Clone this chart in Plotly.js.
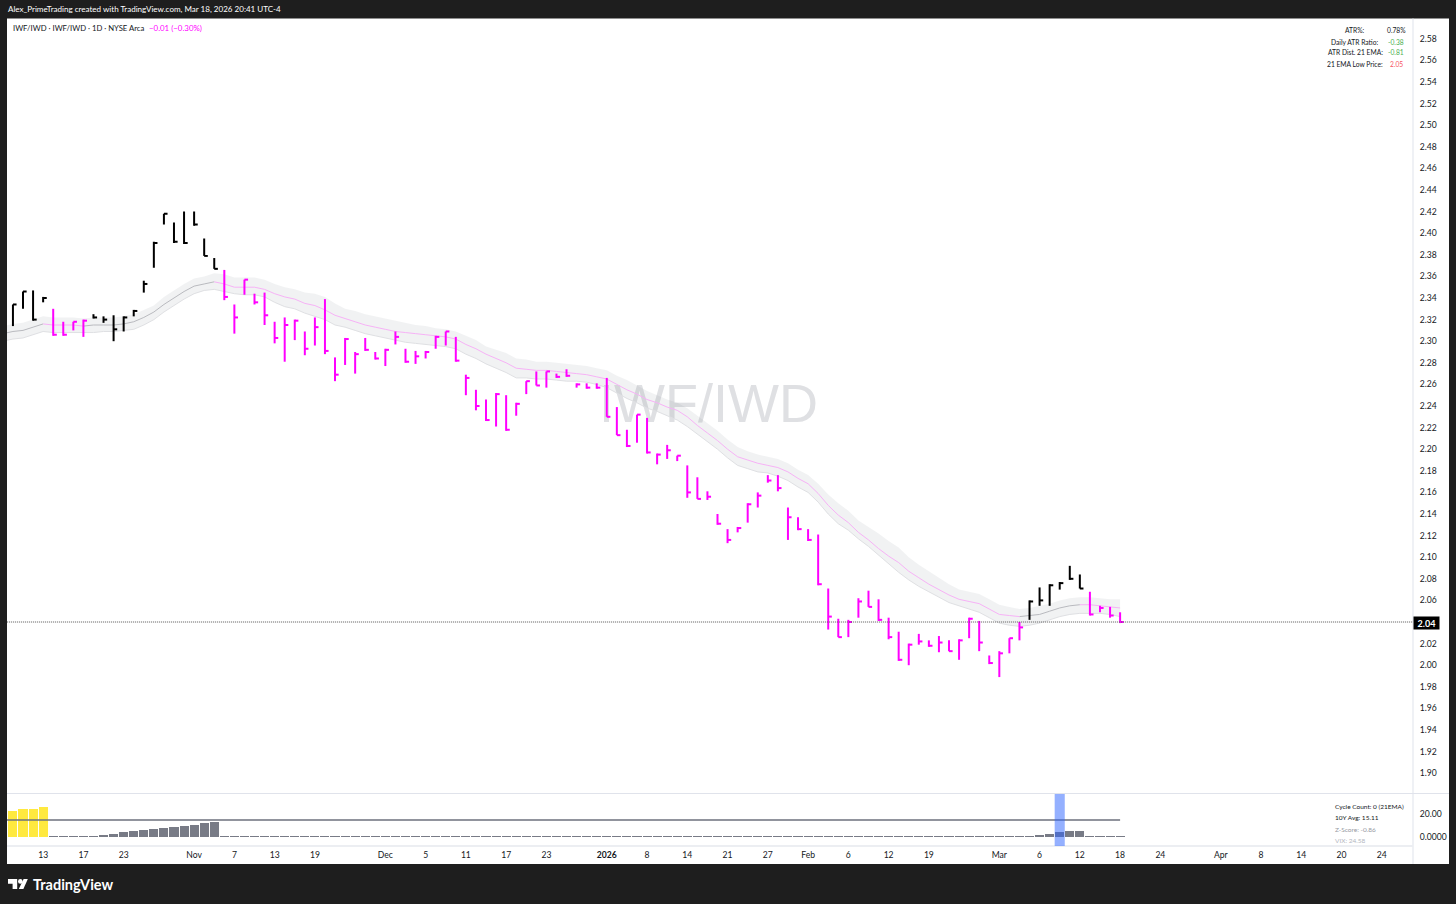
<!DOCTYPE html>
<html><head><meta charset="utf-8">
<script src="https://cdn.plot.ly/plotly-3.0.1.min.js"></script>
<style>html,body{margin:0;padding:0;background:#1e1e1e;overflow:hidden}</style>
</head><body><div id="chart" style="width:1456px;height:904px"></div>
<script>
// ---- Data (IWF/IWD daily, HLC bars) ----
const highs=[2.334,2.346,2.347,2.341,2.330,2.318,2.318,2.320,2.325,2.323,2.324,2.323,2.329,2.356,2.392,2.418,2.410,2.420,2.420,2.395,2.377,2.366,2.334,2.357,2.344,2.345,2.318,2.322,2.320,2.309,2.322,2.339,2.285,2.303,2.290,2.303,2.290,2.293,2.309,2.293,2.291,2.291,2.305,2.309,2.304,2.269,2.255,2.246,2.252,2.250,2.243,2.263,2.272,2.272,2.270,2.274,2.261,2.261,2.261,2.266,2.239,2.218,2.232,2.229,2.196,2.204,2.194,2.185,2.174,2.161,2.140,2.126,2.128,2.150,2.160,2.176,2.176,2.146,2.137,2.126,2.121,2.071,2.043,2.042,2.062,2.069,2.061,2.044,2.031,2.020,2.029,2.023,2.027,2.023,2.024,2.044,2.041,2.009,2.013,2.025,2.040,2.060,2.072,2.075,2.077,2.092,2.084,2.068,2.055,2.054,2.049];
const lows=[2.314,2.330,2.319,2.336,2.305,2.305,2.310,2.304,2.321,2.317,2.300,2.309,2.323,2.345,2.368,2.408,2.391,2.390,2.407,2.379,2.367,2.338,2.307,2.343,2.334,2.315,2.298,2.281,2.301,2.287,2.296,2.288,2.263,2.278,2.270,2.291,2.283,2.277,2.297,2.280,2.279,2.284,2.293,2.296,2.281,2.250,2.236,2.226,2.221,2.217,2.231,2.251,2.259,2.257,2.266,2.267,2.257,2.256,2.256,2.230,2.213,2.202,2.206,2.196,2.186,2.191,2.189,2.155,2.154,2.153,2.130,2.113,2.123,2.132,2.146,2.169,2.161,2.116,2.125,2.115,2.074,2.033,2.026,2.026,2.044,2.054,2.041,2.024,2.004,2.000,2.019,2.017,2.012,2.013,2.005,2.025,2.013,2.001,1.989,2.011,2.023,2.042,2.055,2.055,2.070,2.079,2.071,2.046,2.049,2.044,2.039];
const closes=[2.334,2.346,2.320,2.340,2.306,2.306,2.318,2.319,2.322,2.320,2.311,2.322,2.328,2.353,2.391,2.418,2.392,2.391,2.408,2.379,2.367,2.341,2.322,2.357,2.336,2.324,2.303,2.315,2.319,2.293,2.313,2.291,2.269,2.302,2.288,2.292,2.284,2.292,2.304,2.281,2.286,2.290,2.304,2.309,2.282,2.266,2.240,2.227,2.251,2.218,2.242,2.263,2.259,2.272,2.267,2.268,2.260,2.257,2.257,2.230,2.213,2.203,2.232,2.197,2.195,2.199,2.194,2.160,2.154,2.156,2.131,2.116,2.127,2.149,2.157,2.171,2.164,2.137,2.126,2.116,2.075,2.045,2.026,2.040,2.059,2.054,2.042,2.026,2.005,2.019,2.022,2.018,2.021,2.013,2.023,2.043,2.021,2.002,2.011,2.025,2.035,2.059,2.060,2.074,2.076,2.080,2.071,2.047,2.053,2.046,2.040];
// Bar colour runs: B black, M magenta, with bar counts
const barStateRuns=[['B',4],['M',4],['B',13],['M',80],['B',6],['M',4]];
// 21 EMA and its cloud, first value is the bar before the first visible one
const emaMid=[2.307,2.309,2.310,2.313,2.316,2.315,2.315,2.315,2.314,2.315,2.315,2.315,2.316,2.318,2.322,2.327,2.334,2.340,2.346,2.351,2.353,2.355,2.353,2.350,2.350,2.350,2.348,2.344,2.341,2.339,2.335,2.333,2.329,2.324,2.321,2.318,2.315,2.313,2.311,2.309,2.308,2.307,2.306,2.305,2.304,2.302,2.297,2.293,2.288,2.284,2.280,2.275,2.274,2.273,2.273,2.272,2.271,2.270,2.269,2.267,2.265,2.260,2.255,2.251,2.246,2.243,2.239,2.236,2.230,2.222,2.215,2.208,2.200,2.193,2.190,2.187,2.185,2.183,2.179,2.173,2.168,2.159,2.148,2.139,2.132,2.123,2.116,2.108,2.101,2.095,2.087,2.081,2.075,2.070,2.065,2.061,2.059,2.057,2.052,2.047,2.046,2.045,2.046,2.047,2.050,2.053,2.055,2.056,2.056,2.055,2.054,2.053];
const emaUpper=[2.314,2.316,2.317,2.320,2.323,2.322,2.322,2.322,2.321,2.322,2.322,2.322,2.323,2.325,2.329,2.333,2.341,2.347,2.353,2.358,2.360,2.363,2.362,2.359,2.359,2.359,2.357,2.353,2.350,2.348,2.345,2.344,2.341,2.335,2.330,2.328,2.325,2.323,2.321,2.319,2.317,2.315,2.314,2.312,2.311,2.309,2.305,2.301,2.295,2.292,2.289,2.284,2.283,2.281,2.281,2.280,2.279,2.278,2.277,2.275,2.273,2.268,2.264,2.259,2.254,2.250,2.246,2.243,2.238,2.231,2.224,2.217,2.209,2.202,2.198,2.195,2.193,2.191,2.187,2.181,2.176,2.168,2.158,2.150,2.143,2.134,2.128,2.122,2.115,2.109,2.100,2.093,2.087,2.081,2.075,2.070,2.068,2.066,2.061,2.056,2.054,2.052,2.053,2.055,2.057,2.060,2.062,2.063,2.063,2.062,2.061,2.061];
const emaLower=[2.300,2.302,2.303,2.306,2.309,2.308,2.308,2.308,2.308,2.308,2.309,2.309,2.310,2.311,2.315,2.320,2.327,2.333,2.339,2.344,2.347,2.348,2.346,2.344,2.343,2.343,2.341,2.336,2.332,2.330,2.326,2.323,2.320,2.315,2.313,2.310,2.307,2.305,2.303,2.301,2.299,2.298,2.297,2.296,2.295,2.293,2.288,2.284,2.279,2.275,2.271,2.266,2.266,2.265,2.265,2.264,2.263,2.263,2.262,2.260,2.257,2.252,2.247,2.243,2.238,2.235,2.231,2.227,2.221,2.214,2.207,2.200,2.192,2.185,2.182,2.179,2.178,2.175,2.171,2.165,2.160,2.151,2.140,2.131,2.125,2.117,2.110,2.102,2.094,2.086,2.079,2.073,2.068,2.063,2.058,2.055,2.052,2.049,2.044,2.039,2.037,2.036,2.037,2.039,2.042,2.045,2.047,2.048,2.048,2.048,2.047,2.045];
// Cycle count pane (short marks at the floor are the idle bars)
const cycleCount=[23.2,24.3,25,26,1,1,1,1,1.1,2,3,4.3,5.4,6.3,7.1,8.2,9.4,10,11.1,12.3,13.4,1,1,1,1,1,1,1,1,1,1,1,1,1,1,1,1,1,1,1,1,1,1,1,1,1,1,1,1,1,1,1,1,1,1,1,1,1,1,1,1,1,1,1,1,1,1,1,1,1,1,1,1,1,1,1,1,1,1,1,1,1,1,1,1,1,1,1,1,1,1,1,1,1,1,1,1,1,1,1,1,1.1,2,3.1,4.3,5.2,6,1,1,1,1];
const avg10y=15.11, highlightBar=104, lastPrice=2.04;
const tickIndex=[3,7,11,18,22,26,30,37,41,45,49,53,59,63,67,71,75,79,83,87,91,98,102,106,110,114,120,124,128,132,136];
const tickLabels=["13","17","23","Nov","7","13","19","Dec","5","11","17","23","<b>2026</b>","8","14","21","27","Feb","6","12","19","Mar","6","12","18","24","Apr","8","14","20","24"];
const priceTicks=[];for(let p=190;p<=258;p+=2)if(p!==204)priceTicks.push(p/100);

// ---- Helpers ----
const W=1456,H=904,FONT='Lato,sans-serif',INK='#131722',MAG='#ff00ff';
const X=p=>p/W, Y=p=>1-p/H;
const barStates=barStateRuns.map(r=>r[0].repeat(r[1])).join('');
function barSegs(state){const x=[],y=[];
  highs.forEach((h,i)=>{ if(barStates[i]!==state)return;
    x.push(i,i,null,i,i+0.36,null); y.push(lows[i],h,null,closes[i],closes[i],null);});
  return {x,y};}
function emaSegs(state){const x=[],y=[];
  for(let k=1;k<emaMid.length;k++){const i=k-1;
    if(barStates[i]!==state)continue;
    x.push(i-1,i,null); y.push(emaMid[k-1],emaMid[k],null);}
  return {x,y};}
const emaX=emaMid.map((_,k)=>k-1);
const blk=barSegs('B'),mag=barSegs('M'),eGray=emaSegs('B'),ePink=emaSegs('M');
const base={hoverinfo:'skip',showlegend:false};
const traces=[
 {...base,type:'scatter',mode:'text',x:[69.1],y:[2.238],text:['IWF/IWD'],textposition:'middle center',
  textfont:{family:'"Liberation Sans",Arial,sans-serif',size:54,color:'#dfe0e3'},xaxis:'x',yaxis:'y'},
 {...base,type:'scatter',mode:'lines',x:emaX,y:emaUpper,line:{width:0,color:'rgba(0,0,0,0)'},xaxis:'x',yaxis:'y'},
 {...base,type:'scatter',mode:'lines',x:emaX,y:emaLower,line:{width:1,color:'#dfe0e3'},fill:'tonexty',fillcolor:'rgba(120,123,134,0.10)',xaxis:'x',yaxis:'y'},
 {...base,type:'scatter',mode:'lines',x:eGray.x,y:eGray.y,connectgaps:false,line:{width:1,color:'#b9babf'},xaxis:'x',yaxis:'y'},
 {...base,type:'scatter',mode:'lines',x:ePink.x,y:ePink.y,connectgaps:false,line:{width:1,color:'#f7b2f7'},xaxis:'x',yaxis:'y'},
 {...base,type:'scatter',mode:'lines',x:blk.x,y:blk.y,connectgaps:false,line:{width:2,color:'#000000'},xaxis:'x',yaxis:'y'},
 {...base,type:'scatter',mode:'lines',x:mag.x,y:mag.y,connectgaps:false,line:{width:2,color:MAG},xaxis:'x',yaxis:'y'},
 {...base,type:'bar',x:cycleCount.map((_,i)=>i),y:cycleCount,width:0.9,
  marker:{color:cycleCount.map((_,i)=>i<4?'#ffe93f':'#787b86'),line:{width:0}},xaxis:'x2',yaxis:'y2'},
 {...base,type:'scatter',mode:'lines',x:[-1,110],y:[avg10y,avg10y],line:{width:1.5,color:'#6d707c'},xaxis:'x2',yaxis:'y2'}
];
const txt=(text,x,y,o={})=>({text,x:X(x),y:Y(y),xref:'paper',yref:'paper',showarrow:false,
  xanchor:o.a||'left',yanchor:'middle',align:o.a||'left',font:{family:FONT,size:o.s||6.7,color:o.c||INK},
  bgcolor:o.bg,borderpad:o.pad||0,width:o.w,height:o.h});
const annotations=[
 txt('Alex_PrimeTrading created with TradingView.com, Mar 18, 2026 20:41 UTC-4',7,9,{c:'#ffffff',s:8.05}),
 txt('IWF/IWD · IWF/IWD · 1D · NYSE Arca',12,28,{s:7.7}),
 txt('−0.01 (−0.30%)',148,28,{s:7.9,c:MAG}),
 txt('ATR%:',1355,30,{a:'center'}),txt('0.78%',1396,30,{a:'center'}),
 txt('Daily ATR Ratio:',1355,41.5,{a:'center'}),txt('-0.38',1396,41.5,{a:'center',c:'#4caf50'}),
 txt('ATR Dist. 21 EMA:',1355,52.5,{a:'center'}),txt('-0.81',1396,52.5,{a:'center',c:'#4caf50'}),
 txt('21 EMA Low Price:',1355,64,{a:'center'}),txt('2.05',1396,64,{a:'center',c:'#f7525f'}),
 txt('Cycle Count: 0 (21EMA)',1334,806,{s:6.5}),
 txt('10Y Avg: 15.11',1334,817.5,{s:6.5}),
 txt('Z-Score: -0.86',1334,829,{s:6.5,c:'#9598a1'}),
 txt('VIX: 24.58',1334,840,{s:6.5,c:'#b2b5be'}),
 txt('<b>2.04</b>',1426,622.5,{a:'center',s:9,c:'#ffffff',bg:'#000000',w:25,h:12}),
 txt('<b>TradingView</b>',32,884,{s:14.5,c:'#ffffff'})
];
const pxShape=(x0,y0,x1,y1,fill)=>({type:'rect',xref:'paper',yref:'paper',x0:X(x0),x1:X(x1),y0:Y(y0),y1:Y(y1),fillcolor:fill,line:{width:0},layer:'below'});
const pathPx=pts=>pts.map((p,i)=>(i?'L':'M')+X(p[0])+','+Y(p[1])).join(' ')+' Z';
const logo=p=>({type:'path',xref:'paper',yref:'paper',path:pathPx(p),fillcolor:'#ffffff',line:{width:0},layer:'above'});
const shapes=[
 pxShape(7,18.5,1449,864,'#ffffff'),
 pxShape(1412.5,18.5,1413.5,864,'#e0e3eb'),
 pxShape(7,793,1449,794,'#e0e3eb'),
 pxShape(7,845,1413,847,'#eceef2'),
 {type:'line',xref:'x',yref:'y',x0:-1,x1:140,y0:lastPrice,y1:lastPrice,line:{width:1,color:'#555',dash:'1px,1px'},layer:'above'},
 {type:'rect',xref:'x2',yref:'y2',x0:highlightBar-0.5,x1:highlightBar+0.5,y0:-7.4,y1:37.6,fillcolor:'#2962ff',opacity:0.5,line:{width:0},layer:'above'},
 logo([[8,879],[17.2,879],[17.2,889],[12.6,889],[12.6,883.8],[8,883.8]]),
 {type:'circle',xref:'paper',yref:'paper',x0:X(18),x1:X(22.6),y0:Y(879),y1:Y(883.8),fillcolor:'#ffffff',line:{width:0},layer:'above'},
 logo([[23.6,879],[27.8,879],[23.4,889],[18.8,889]])
];
const axisFont={family:FONT,size:8.6,color:INK};
const layout={
 width:W,height:H,paper_bgcolor:'#1e1e1e',plot_bgcolor:'rgba(0,0,0,0)',
 margin:{l:0,r:0,t:0,b:0},showlegend:false,bargap:0,dragmode:false,
 xaxis:{domain:[X(7),X(1413)],range:[-0.59,139.1],anchor:'y',showgrid:false,zeroline:false,showline:false,showticklabels:false,ticks:''},
 yaxis:{domain:[Y(793),Y(18.5)],range:[2.04+(622-793)/1080,2.04+(622-18.5)/1080],anchor:'x',side:'right',tickmode:'array',
  tickvals:priceTicks,ticktext:priceTicks.map(v=>v.toFixed(2)),tickfont:axisFont,showgrid:false,zeroline:false,showline:false,ticks:'outside',ticklen:4,tickcolor:'rgba(0,0,0,0)'},
 xaxis2:{domain:[X(7),X(1413)],range:[-0.59,139.1],anchor:'y2',tickmode:'array',tickvals:tickIndex,ticktext:tickLabels,tickfont:axisFont,
  showgrid:false,zeroline:false,showline:false,ticks:'outside',ticklen:1,tickcolor:'rgba(0,0,0,0)'},
 yaxis2:{domain:[Y(846),Y(794)],range:[-7.4,37.6],anchor:'x2',side:'right',tickmode:'array',tickvals:[0,20],ticktext:['0.0000','20.00'],
  tickfont:axisFont,showgrid:false,zeroline:false,showline:false,ticks:'outside',ticklen:4,tickcolor:'rgba(0,0,0,0)'},
 annotations,shapes
};
Plotly.newPlot('chart',traces,layout,{staticPlot:true,displayModeBar:false});
</script></body></html>
